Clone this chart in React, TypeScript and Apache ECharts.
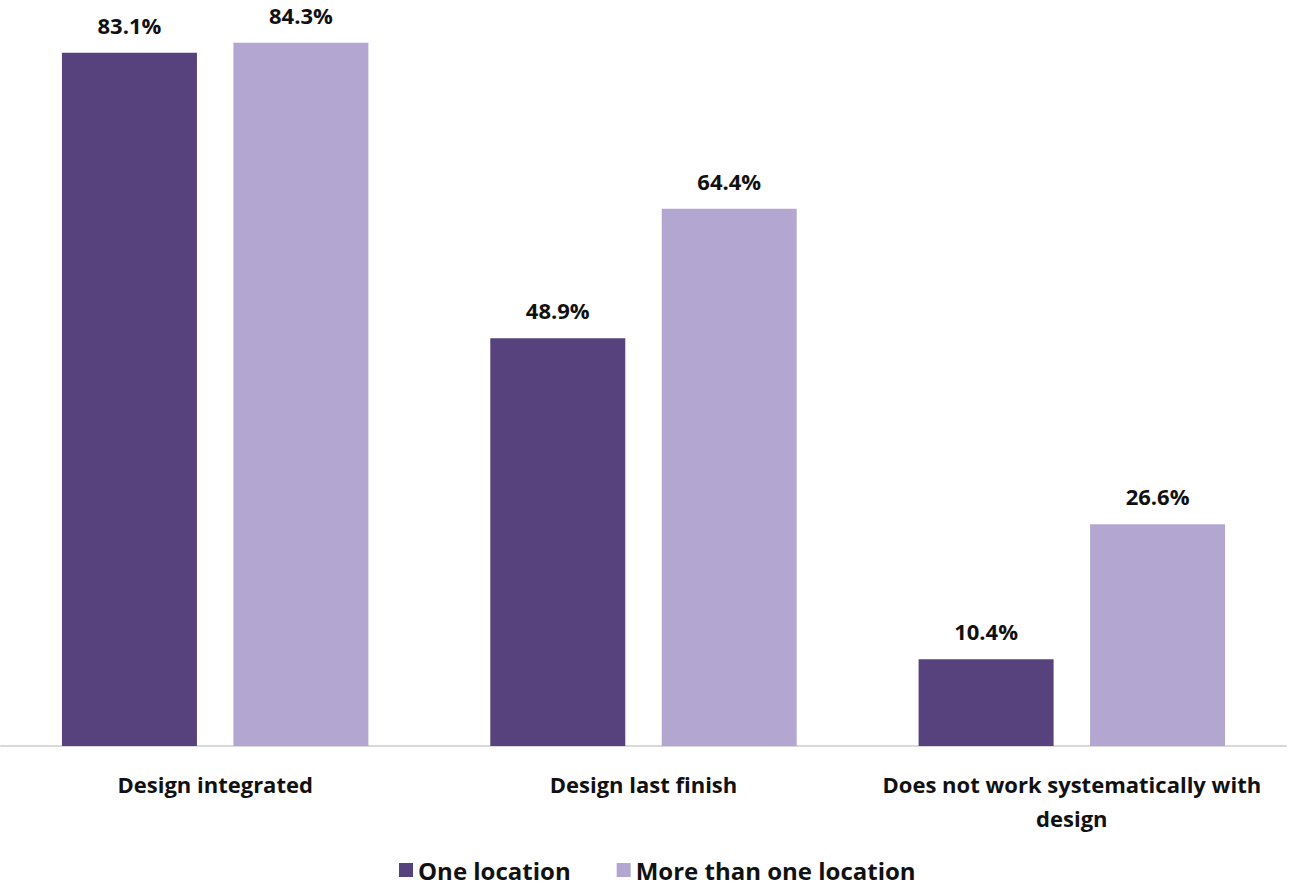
import React, { useEffect, useRef } from "react";
import * as echarts from "echarts";

const categories = ["Design integrated", "Design last finish", "Does not work systematically with\ndesign"];
const oneLocation = [83.1, 48.9, 10.4];
const moreLocations = [84.3, 64.4, 26.6];
const seriesNames = ["One location", "More than one location"];

export default function App() {
  const ref = useRef<HTMLDivElement>(null);
  useEffect(() => {
    const chart = echarts.init(ref.current!, null, { renderer: "svg" });
    const font = "'Open Sans', sans-serif";
    const label = {
      show: true,
      position: "top" as const,
      distance: 17,
      formatter: (p: any) => p.value.toFixed(1) + "%",
      fontFamily: font,
      fontWeight: "bold" as const,
      fontSize: 22,
      lineHeight: 22,
      color: "#111",
    };
    chart.setOption({
      animation: false,
      grid: { left: 1, right: 5, top: 12, bottom: 142, containLabel: false },
      legend: {
        bottom: 1,
        left: 394,
        itemWidth: 14,
        itemHeight: 14,
        itemGap: 46,
        icon: "rect",
        textStyle: { fontFamily: font, fontWeight: "bold", fontSize: 24, color: "#111" },
        data: seriesNames,
      },
      xAxis: {
        type: "category",
        data: categories,
        axisLine: { lineStyle: { color: "#d9d9d9", width: 2 } },
        axisTick: { show: false },
        axisLabel: {
          interval: 0,
          margin: 21,
          fontFamily: font,
          fontWeight: "bold",
          fontSize: 22,
          color: "#111",
          lineHeight: 34,
          verticalAlign: "top",
        },
      },
      yAxis: { type: "value", min: 0, max: 88, show: false, splitLine: { show: false } },
      series: [
        {
          name: seriesNames[0],
          type: "bar",
          data: oneLocation,
          barWidth: 135,
          barGap: "27%",
          itemStyle: { color: "#58427d" },
          label,
        },
        {
          name: seriesNames[1],
          type: "bar",
          data: moreLocations,
          barWidth: 135,
          barGap: "27%",
          itemStyle: { color: "#b3a7d1" },
          label,
        },
      ],
    });
    return () => chart.dispose();
  }, []);
  return (
    <div
      ref={ref}
      style={{ position: "fixed", left: 0, top: 0, width: 1291, height: 888, background: "#fff" }}
    />
  );
}
